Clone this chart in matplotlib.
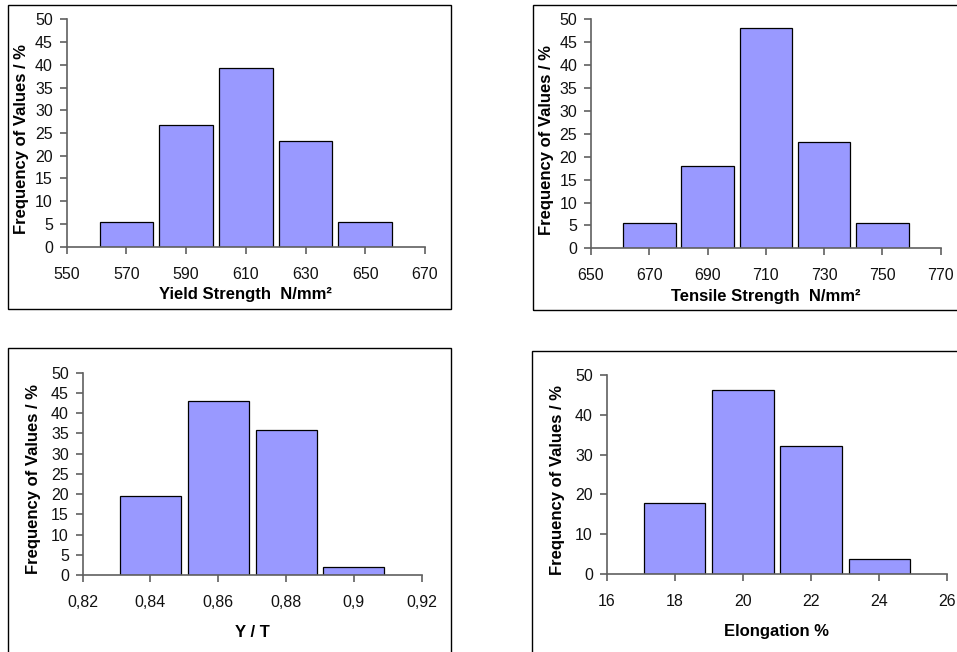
import numpy as np
import matplotlib.pyplot as plt
from matplotlib.patches import Rectangle
from matplotlib.ticker import FuncFormatter, MultipleLocator

plt.rcParams['font.family'] = ['Liberation Sans', 'DejaVu Sans']

# Histogram data: class centres and frequency of values in %
yield_bins = [570, 590, 610, 630, 650]
yield_freq = [5.5, 26.7, 39.3, 23.2, 5.5]

tensile_bins = [670, 690, 710, 730, 750]
tensile_freq = [5.5, 18.0, 48.2, 23.3, 5.5]

ratio_bins = [0.84, 0.86, 0.88, 0.90]
ratio_freq = [19.6, 43.1, 35.8, 1.9]

elong_bins = [18, 20, 22, 24]
elong_freq = [17.8, 46.2, 32.2, 3.7]

W, H = 957, 652
fig = plt.figure(figsize=(W / 100, H / 100), dpi=100)

bar_color = '#9999FF'
axis_color = '#606060'


def px_axes(x0, y0, x1, y1):
    # axes placed by pixel box (top-left origin)
    return fig.add_axes([x0 / W, 1 - y1 / H, (x1 - x0) / W, (y1 - y0) / H])


def frame(x0, y0, x1, y1):
    fig.patches.append(Rectangle((x0 / W, 1 - y1 / H), (x1 - x0) / W, (y1 - y0) / H,
                                 transform=fig.transFigure, fill=False,
                                 edgecolor='black', linewidth=1.0, clip_on=False))


def histo(ax, bins, freq, step, xlim, xlabel, ystep, labelx):
    ax.bar(bins, freq, width=step * 0.9, color=bar_color, edgecolor='black', linewidth=0.9)
    ax.set_xlim(*xlim)
    ax.set_ylim(0, 50)
    ax.set_xticks(np.linspace(xlim[0], xlim[1], int(round((xlim[1] - xlim[0]) / step)) + 1))
    ax.yaxis.set_major_locator(MultipleLocator(ystep))
    for s in ('top', 'right'):
        ax.spines[s].set_visible(False)
    for s in ('left', 'bottom'):
        ax.spines[s].set_color(axis_color)
        ax.spines[s].set_linewidth(1.2)
    ax.tick_params(axis='both', direction='out', length=5, width=1.2, color=axis_color,
                   labelsize=11.5, labelcolor='#111111')
    ax.tick_params(axis='x', pad=9.5)
    ax.tick_params(axis='y', pad=5)
    ax.set_xlabel(xlabel, fontsize=12, fontweight='bold', labelpad=4)
    ax.set_ylabel('Frequency of Values / %', fontsize=12, fontweight='bold')
    ax.yaxis.set_label_coords(labelx, 0.474)
    ax.set_facecolor('none')


frame(8, 5, 451, 309)
ax1 = px_axes(66.7, 19.3, 425, 246.7)
histo(ax1, yield_bins, yield_freq, 20, (550, 670), 'Yield Strength  N/mm²', 5, -0.106)

frame(533, 5, 990, 310)
ax2 = px_axes(591, 19.3, 940.7, 248.3)
histo(ax2, tensile_bins, tensile_freq, 20, (650, 770), 'Tensile Strength  N/mm²', 5, -0.106)

frame(8, 348, 451, 700)
ax3 = px_axes(82.7, 372.7, 421.7, 575)
histo(ax3, ratio_bins, ratio_freq, 0.02, (0.82, 0.92), 'Y / T', 5, -0.124)
ax3.xaxis.set_major_formatter(FuncFormatter(lambda v, p: f'{v:.2f}'.rstrip('0').replace('.', ',')))
ax3.xaxis.labelpad = 11

frame(532, 351, 990, 700)
ax4 = px_axes(606.7, 375, 947.3, 574)
histo(ax4, elong_bins, elong_freq, 2, (16, 26), 'Elongation %', 10, -0.123)
ax4.xaxis.labelpad = 11

fig.savefig('out.png', dpi=100)
